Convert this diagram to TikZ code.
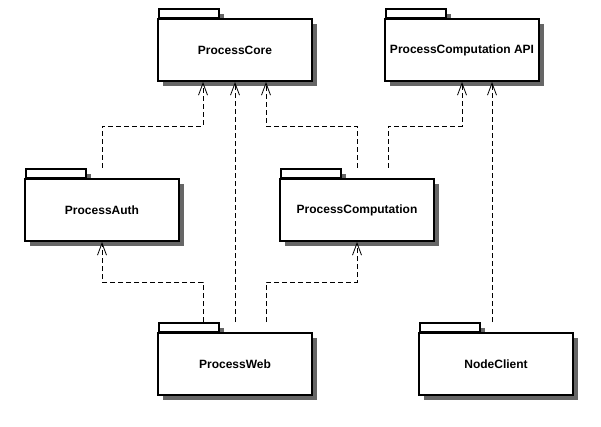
\documentclass[tikz,border=0pt]{standalone}
\usepackage{fontspec}
\setmainfont{Liberation Sans}
\usetikzlibrary{calc,shadows,arrows.meta}
\tikzset{
  pkg/.style={draw, line width=2pt, fill=white, minimum width=154pt, minimum height=62pt,
    inner sep=0pt, font=\fontsize{12}{14}\selectfont\bfseries,
    drop shadow={shadow xshift=5pt, shadow yshift=-5pt, fill=black!60, opacity=1}},
  pkgtab/.style={draw, line width=2pt, fill=white, minimum width=60pt, minimum height=9pt,
    inner sep=0pt, anchor=south west,
    drop shadow={shadow xshift=5pt, shadow yshift=-5pt, fill=black!60, opacity=1}},
  dep/.style={line width=0.8pt, dash pattern=on 5pt off 3pt, -{Straight Barb[length=12pt,width=9pt,line width=0.8pt]}}
}
% package box: tab first, then body on top
\def\pkgbox(#1)(#2)#3{
  \node[pkgtab] at ($(#2)+(-77,31)$) {};
  \node[pkg] (#1) at (#2) {#3};
}

\begin{document}
\begin{tikzpicture}[x=1pt,y=1pt]
			\useasboundingbox (0,0) rectangle (601,-427);
			%%%%% PACKAGES %%%%%
			\pkgbox(core)(235,-50){ProcessCore}
			\pkgbox(api)(462,-50){ProcessComputation API}
			\pkgbox(auth)(102,-210){ProcessAuth}
			\pkgbox(comp)(357,-210){ProcessComputation}
			\pkgbox(web)(235,-364){ProcessWeb}
			\pkgbox(client)(496,-364){NodeClient}
			
			%%%%% DEPENDENCIES %%%%%
			\draw[dep] ($(auth.north)+(0,10)$) |- ($(core.south)+(-32,-44)$) -- ($(core.south)+(-32,0)$);
			\draw[dep] ($(web.north)+(0,10)$) -- (core.south);
			\draw[dep] ($(comp.north)+(0,10)$) |- ($(core.south)+(31,-44)$) -- ($(core.south)+(31,0)$);
			\draw[dep] ($(comp.north)+(31,10)$) |- ($(api.south)+(0,-44)$) -- (api.south);
			\draw[dep] ($(client.north)+(-4,10)$) -- ($(api.south)+(30,0)$);
			
			\draw[dep] ($(web.north)+(-32,10)$) |- ($(auth.south)+(0,-40)$) -- (auth.south);
			\draw[dep] ($(web.north)+(31,10)$) |- ($(comp.south)+(0,-40)$) -- (comp.south);
		\end{tikzpicture}
\end{document}
